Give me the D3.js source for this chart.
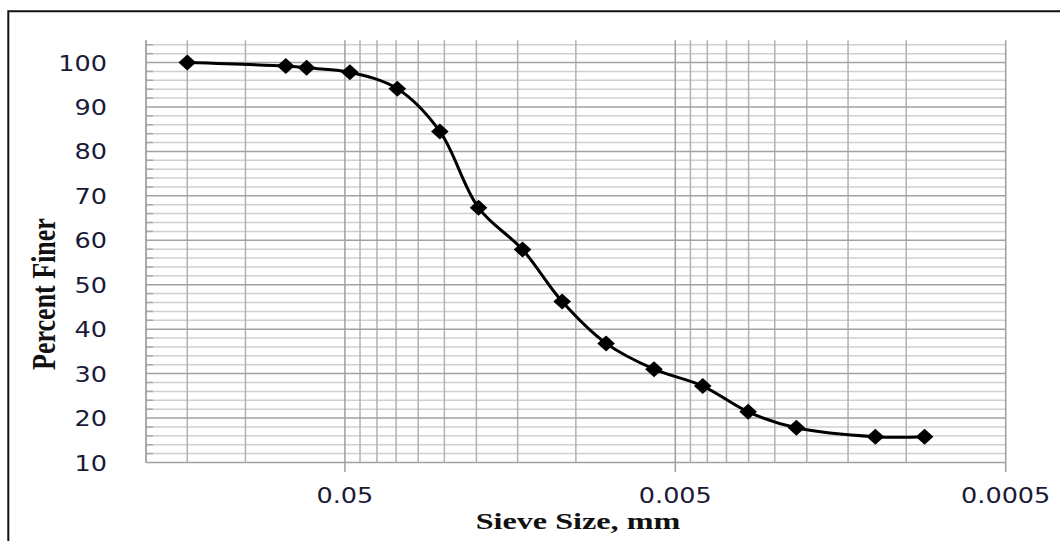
<!DOCTYPE html>
<html>
<head>
<meta charset="utf-8">
<script src="https://cdn.jsdelivr.net/npm/d3@7"></script>
<style>
  body { margin: 0; background: #fff; }
  svg { display: block; }
</style>
</head>
<body>
<div id="chart"></div>
<script>
// grain size values
let sieveSizes = [0.15, 0.0755, 0.0653, 0.0483, 0.0347, 0.0258, 0.0197, 0.0145,
                  0.0110, 0.0081, 0.0058, 0.00413, 0.00301, 0.00215, 0.00124, 0.00088];
let percentFiner = [100, 99.2, 98.8, 97.8, 94.1, 84.5, 67.3, 57.9,
                    46.2, 36.8, 31.0, 27.2, 21.4, 17.8, 15.8, 15.8];
let xTickLabels = [0.05, 0.005, 0.0005];
let yTickLabels = [10, 20, 30, 40, 50, 60, 70, 80, 90, 100];
let decadeBases = [0.0005, 0.005, 0.05];

let width = 1060;
let height = 541;

let svg = d3.select("#chart")
            .append("svg")
            .attr("width", width)
            .attr("height", height);

const x = d3.scaleLog().domain([0.2, 0.0005]).range([146, 1005.7]);
const y = d3.scaleLinear().domain([10, 105]).range([462.5, 40.3]);

// outer frame (left + top only are visible)
svg.append("path")
   .attr("d", "M8.3,541 L8.3,11.3 L1060,11.3")
   .attr("fill", "none")
   .attr("stroke", "#111")
   .attr("stroke-width", 2);

let grid = svg.append("g").attr("class", "grid");

// horizontal minor lines every 2
let minorY = d3.range(12, 105, 2).filter(function(v) { return v % 10 !== 0; });
grid.selectAll("line.hminor")
    .data(minorY)
    .enter().append("line")
    .attr("class", "hminor")
    .attr("x1", x(0.2)).attr("x2", x(0.0005))
    .attr("y1", function(d) { return y(d); })
    .attr("y2", function(d) { return y(d); })
    .attr("stroke", "#d0d0d0")
    .attr("stroke-width", 1.5);

// small tick marks on the left edge for the minor lines
grid.selectAll("line.yminortick")
    .data(minorY)
    .enter().append("line")
    .attr("class", "yminortick")
    .attr("x1", x(0.2)).attr("x2", x(0.2) + 7)
    .attr("y1", function(d) { return y(d); })
    .attr("y2", function(d) { return y(d); })
    .attr("stroke", "#a8a8a8")
    .attr("stroke-width", 1.5);

// vertical lines: k * 10^n inside the domain
let vLines = [];
decadeBases.forEach(function(b) {
    d3.range(1, 10).forEach(function(k) {
        let v = b * k;
        if (v <= 0.2 + 1e-9) vLines.push({ v: v, major: k === 1 });
    });
});

grid.selectAll("line.v")
    .data(vLines)
    .enter().append("line")
    .attr("class", "v")
    .attr("x1", function(d) { return x(d.v); })
    .attr("x2", function(d) { return x(d.v); })
    .attr("y1", y(105))
    .attr("y2", function(d) { return d.major ? 472 : y(10); })
    .attr("stroke", function(d) { return d.major ? "#a0a0a0" : "#b2b2b2"; })
    .attr("stroke-width", 1.5);

// horizontal major lines every 10
grid.selectAll("line.hmajor")
    .data(yTickLabels.slice(1))
    .enter().append("line")
    .attr("class", "hmajor")
    .attr("x1", x(0.2)).attr("x2", x(0.0005))
    .attr("y1", function(d) { return y(d); })
    .attr("y2", function(d) { return y(d); })
    .attr("stroke", "#a2a2a2")
    .attr("stroke-width", 1.5);

// axis lines
grid.append("line")
    .attr("x1", x(0.2)).attr("x2", x(0.2))
    .attr("y1", y(105)).attr("y2", y(10))
    .attr("stroke", "#a0a0a0").attr("stroke-width", 1.5);
grid.append("line")
    .attr("x1", x(0.2)).attr("x2", x(0.0005))
    .attr("y1", y(10)).attr("y2", y(10))
    .attr("stroke", "#a0a0a0").attr("stroke-width", 1.5);

// tick labels
let sx = 1.16;
svg.append("g")
   .selectAll("text")
   .data(yTickLabels)
   .enter().append("text")
   .attr("transform", function(d) { return "translate(107," + (y(d) + 8) + ") scale(" + sx + ",1)"; })
   .attr("text-anchor", "end")
   .attr("font-family", "DejaVu Sans")
   .attr("font-size", 22)
   .attr("fill", "#1a1a38")
   .text(function(d) { return d; });

svg.append("g")
   .selectAll("text")
   .data(xTickLabels)
   .enter().append("text")
   .attr("transform", function(d) { return "translate(" + x(d) + ",503) scale(" + sx + ",1)"; })
   .attr("text-anchor", "middle")
   .attr("font-family", "DejaVu Sans")
   .attr("font-size", 22)
   .attr("fill", "#1a1a38")
   .text(function(d) { return d; });

// axis titles
svg.append("text")
   .attr("transform", "translate(578,529) scale(1.4,1)")
   .attr("text-anchor", "middle")
   .attr("font-family", "Liberation Serif")
   .attr("font-weight", "bold")
   .attr("font-size", 23)
   .attr("fill", "#111")
   .text("Sieve Size, mm");

svg.append("text")
   .attr("transform", "translate(55,294) scale(1.28,1) rotate(-90)")
   .attr("text-anchor", "middle")
   .attr("font-family", "Liberation Serif")
   .attr("font-weight", "bold")
   .attr("font-size", 26)
   .attr("fill", "#111")
   .text("Percent Finer");

// the curve
let points = sieveSizes.map(function(s, i) { return { size: s, finer: percentFiner[i] }; });

const line = d3.line()
    .x(function(d) { return x(d.size); })
    .y(function(d) { return y(d.finer); })
    .curve(d3.curveCatmullRom.alpha(0.5));

svg.append("path")
   .datum(points)
   .attr("d", line)
   .attr("fill", "none")
   .attr("stroke", "#000")
   .attr("stroke-width", 3);

svg.append("g")
   .selectAll("path")
   .data(points)
   .enter().append("path")
   .attr("d", "M0,-8 L8.8,0 L0,8 L-8.8,0 Z")
   .attr("transform", function(d) { return "translate(" + x(d.size) + "," + y(d.finer) + ")"; })
   .attr("fill", "#000");
</script>
</body>
</html>
